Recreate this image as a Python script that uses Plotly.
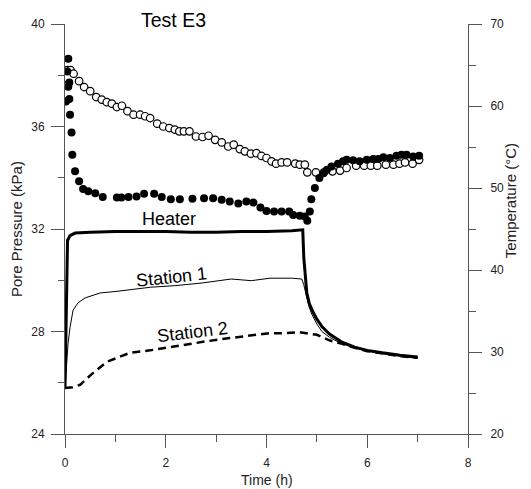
import plotly.graph_objects as go

# ---- Data ----
# Filled circles: pore pressure (kPa), left axis
filled_t = [0.02, 0.046, 0.066, 0.066, 0.086, 0.086, 0.10, 0.13, 0.145, 0.20, 0.28, 0.36, 0.46, 0.60,
            0.75, 1.03, 1.12, 1.26, 1.42, 1.57, 1.77, 1.92, 2.10, 2.28, 2.53, 2.76, 2.94, 3.11,
            3.27, 3.44, 3.60, 3.74, 3.88, 4.00, 4.15, 4.30, 4.45, 4.53, 4.66, 4.76, 4.81, 4.86,
            4.89, 4.96, 5.05, 5.13, 5.20, 5.29, 5.42, 5.52, 5.59, 5.72, 5.85, 5.99, 6.12, 6.22,
            6.32, 6.45, 6.58, 6.68, 6.78, 6.91, 7.03]
filled_p = [36.98, 38.15, 38.64, 37.55, 37.72, 37.07, 36.46, 35.77, 34.90, 34.25, 33.86, 33.56, 33.47, 33.40,
            33.25, 33.23, 33.23, 33.25, 33.27, 33.38, 33.38, 33.25, 33.16, 33.16, 33.18, 33.20, 33.20, 33.14,
            33.07, 33.00, 33.07, 33.03, 32.84, 32.70, 32.68, 32.68, 32.68, 32.55, 32.52, 32.49, 32.32, 32.68,
            33.16, 33.60, 33.99, 34.18, 34.31, 34.44, 34.55, 34.64, 34.70, 34.68, 34.64, 34.70, 34.73, 34.73,
            34.80, 34.77, 34.86, 34.90, 34.90, 34.83, 34.86]

# Open circles: pore pressure (kPa), left axis
open_t = [0.0, 0.02, 0.05, 0.11, 0.17, 0.28, 0.38, 0.50, 0.62, 0.73, 0.83, 0.93, 1.03, 1.13, 1.24,
          1.36, 1.49, 1.59, 1.69, 1.83, 1.95, 2.07, 2.18, 2.27, 2.36, 2.47, 2.60, 2.73, 2.85,
          2.98, 3.11, 3.24, 3.35, 3.47, 3.57, 3.69, 3.80, 3.90, 4.00, 4.10, 4.19, 4.30, 4.41,
          4.57, 4.66, 4.76, 4.81, 4.98, 5.14, 5.31, 5.46, 5.59, 5.78, 5.94, 6.07, 6.20, 6.37,
          6.52, 6.64, 6.75, 6.90, 7.03]
open_p = [38.19, 37.60, 38.20, 38.20, 38.06, 37.77, 37.54, 37.38, 37.15, 37.05, 36.95, 36.89, 36.76, 36.81, 36.60,
          36.46, 36.46, 36.40, 36.33, 36.11, 36.00, 35.94, 35.88, 35.81, 35.81, 35.81, 35.61, 35.59, 35.64,
          35.48, 35.38, 35.22, 35.29, 35.12, 35.03, 34.94, 34.96, 34.85, 34.77, 34.64, 34.55, 34.60, 34.60,
          34.55, 34.51, 34.51, 34.21, 34.21, 34.21, 34.25, 34.28, 34.38, 34.47, 34.47, 34.47, 34.47, 34.51,
          34.51, 34.55, 34.60, 34.55, 34.70]

# Temperatures (deg C), right axis
heater_t = [0.0, 0.03, 0.05, 0.10, 0.20, 0.50, 1.0, 1.5, 2.0, 2.5, 3.0, 3.5, 4.0, 4.5, 4.72,
            4.74, 4.76, 4.80, 4.85, 4.92, 5.0, 5.1, 5.25, 5.4, 5.5, 5.75, 6.0, 6.3, 6.65, 7.0]
heater_T = [25.6, 40.0, 43.6, 44.2, 44.5, 44.6, 44.7, 44.7, 44.7, 44.6, 44.6, 44.7, 44.7, 44.8, 44.9,
            41.5, 39.6, 37.2, 35.9, 34.9, 34.0, 33.1, 32.2, 31.6, 31.2, 30.6, 30.2, 29.9, 29.6, 29.4]

station1_t = [0.0, 0.03, 0.06, 0.10, 0.16, 0.26, 0.40, 0.70, 1.03, 1.7, 2.2, 2.7, 3.3, 3.7, 4.07,
              4.5, 4.70, 4.74, 4.78, 4.84, 4.90, 5.0, 5.1, 5.25, 5.4, 5.5, 5.75, 6.0, 6.3, 6.65, 7.0]
station1_T = [25.6, 28.5, 31.0, 33.0, 35.1, 36.0, 36.6, 37.2, 37.4, 37.9, 38.1, 38.4, 38.9, 38.7, 39.0,
              39.0, 38.9, 38.2, 37.0, 35.6, 34.6, 33.4, 32.5, 31.8, 31.3, 31.0, 30.5, 30.1, 29.8, 29.5, 29.2]

station2_t = [0.0, 0.15, 0.30, 0.53, 0.83, 1.29, 1.69, 2.35, 2.8, 3.27, 3.74, 4.07, 4.40, 4.66,
              5.0, 5.26, 5.5, 5.75, 6.0, 6.3, 6.65, 7.0]
station2_T = [25.6, 25.7, 26.0, 27.3, 28.8, 29.9, 30.2, 30.9, 31.3, 31.7, 32.0, 32.3, 32.3, 32.4,
              32.1, 31.4, 31.0, 30.5, 30.1, 29.8, 29.5, 29.3]

title_text = "Test E3"
x_title = "Time (h)"
y_title = "Pore Pressure (kPa)"
y2_title = "Temperature (°C)"

FONT = "Arial, 'Liberation Sans', sans-serif"
AX = "#555555"

fig = go.Figure()

fig.add_trace(go.Scatter(x=heater_t, y=heater_T, yaxis="y2", mode="lines",
                         line=dict(color="black", width=3), showlegend=False))
fig.add_trace(go.Scatter(x=station1_t, y=station1_T, yaxis="y2", mode="lines",
                         line=dict(color="black", width=1), showlegend=False))
fig.add_trace(go.Scatter(x=station2_t, y=station2_T, yaxis="y2", mode="lines",
                         line=dict(color="black", width=2.5, dash="8px,5px"), showlegend=False))
fig.add_trace(go.Scatter(x=open_t, y=open_p, mode="markers",
                         marker=dict(symbol="circle", size=7.5, color="white",
                                     line=dict(color="black", width=1.2)), showlegend=False))
fig.add_trace(go.Scatter(x=filled_t, y=filled_p, mode="markers",
                         marker=dict(symbol="circle", size=8, color="black",
                                     line=dict(width=0)), showlegend=False))

fig.update_layout(
    width=523, height=481,
    margin=dict(l=57, r=63, t=16, b=55, autoexpand=False),
    paper_bgcolor="white", plot_bgcolor="white",
    font=dict(family=FONT, size=12, color="#222222"),
    xaxis=dict(range=[0, 8], dtick=2, tick0=0, showgrid=False, zeroline=False, automargin=False,
               showline=True, linecolor=AX, linewidth=1,
               ticks="outside", ticklen=13, tickcolor=AX, tickwidth=1, ticklabelstandoff=5,
               minor=dict(dtick=1, tick0=0, ticks="outside", ticklen=7, tickcolor=AX, tickwidth=1, showgrid=False),
               tickfont=dict(size=12)),
    yaxis=dict(range=[24, 40], dtick=4, tick0=24, showgrid=False, zeroline=False, automargin=False,
               showline=True, linecolor=AX, linewidth=1,
               ticks="outside", ticklen=13, tickcolor=AX, tickwidth=1, ticklabelstandoff=4,
               minor=dict(dtick=2, tick0=24, ticks="outside", ticklen=6, tickcolor=AX, tickwidth=1, showgrid=False),
               tickfont=dict(size=12)),
    yaxis2=dict(range=[20, 70], dtick=10, tick0=20, overlaying="y", side="right", automargin=False,
                showgrid=False, zeroline=False,
                showline=True, linecolor=AX, linewidth=1,
                ticks="outside", ticklen=13, tickcolor=AX, tickwidth=1, ticklabelstandoff=6,
                minor=dict(dtick=5, tick0=20, ticks="outside", ticklen=7, tickcolor=AX, tickwidth=1, showgrid=False),
                tickfont=dict(size=12)),
    annotations=[
        dict(text=title_text, x=2.16, y=1.01, xref="x", yref="paper", showarrow=False,
             font=dict(size=19.5, color="black"), yanchor="middle"),
        dict(text="Heater", x=2.06, y=32.39, xref="x", yref="y", showarrow=False,
             font=dict(size=18, color="black")),
        dict(text="Station 1", x=2.12, y=30.13, xref="x", yref="y", showarrow=False,
             font=dict(size=18, color="black"), textangle=-6),
        dict(text="Station 2", x=2.54, y=27.98, xref="x", yref="y", showarrow=False,
             font=dict(size=18, color="black"), textangle=-7),
        dict(text=x_title, x=0.5, y=-0.112, xref="paper", yref="paper", showarrow=False,
             font=dict(size=14, color="#222222"), yanchor="middle"),
        dict(text=y_title, x=-0.1216, y=0.5, xref="paper", yref="paper", showarrow=False,
             font=dict(size=15, color="#222222"), textangle=-90, xanchor="center"),
        dict(text=y2_title, x=1.104, y=0.57, xref="paper", yref="paper", showarrow=False,
             font=dict(size=15, color="#222222"), textangle=-90, xanchor="center"),
    ],
)

fig.write_html("out.html")
